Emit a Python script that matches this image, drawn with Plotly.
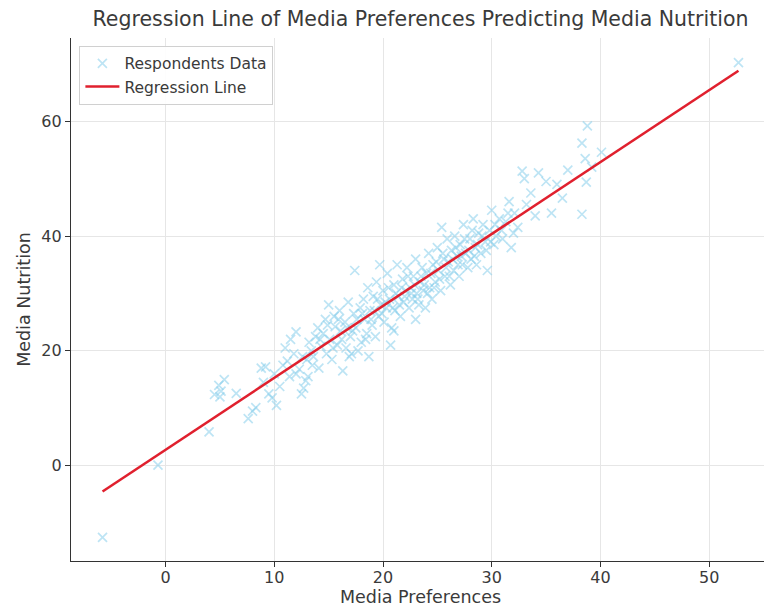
import plotly.graph_objects as go

# ---- Data ----
media_preferences = [
    -5.8, -0.7, 4.0, 4.5, 4.9, 5.1, 5.4, 5.0, 6.5, 7.6, 8.0, 8.3, 8.8, 9.2, 9.0, 9.5, 9.8, 10.2, 10.5, 10.8,
    11.0, 11.2, 11.5, 11.8, 12.0, 12.3, 12.5, 12.7, 12.9, 13.0, 13.2, 13.4, 13.6, 13.8, 14.0, 14.1, 14.3, 14.5, 14.7, 14.8,
    15.0, 15.1, 15.3, 15.5, 15.6, 15.8, 16.0, 16.1, 16.3, 16.5, 16.6, 16.8, 17.0, 17.1, 17.3, 17.4, 17.5, 17.7, 17.9, 18.0,
    18.2, 18.3, 18.5, 18.6, 18.8, 19.0, 19.1, 19.3, 19.4, 19.6, 19.8, 20.0, 20.1, 20.3, 20.4, 20.6, 20.8, 21.0, 21.1, 21.3,
    21.4, 21.6, 21.8, 21.9, 22.1, 22.2, 22.4, 22.5, 22.7, 22.8, 23.0, 23.1, 23.3, 23.4, 23.6, 23.7, 23.9, 24.0, 24.2, 24.3,
    24.5, 24.6, 24.8, 25.0, 25.1, 25.3, 25.4, 25.6, 25.7, 25.9, 26.0, 26.2, 26.3, 26.5, 26.6, 26.8, 27.0, 27.1, 27.3, 27.4,
    27.6, 27.8, 28.0, 28.1, 28.3, 28.5, 28.6, 28.8, 29.0, 29.2, 29.4, 29.6, 29.8, 30.0, 30.2, 30.4, 30.7, 31.0, 31.3, 31.6,
    31.8, 32.1, 32.4, 32.8, 33.0, 33.2, 33.6, 34.0, 34.3, 35.0, 35.5, 36.0, 36.5, 37.0, 38.3, 38.3, 38.7, 38.6, 38.8, 39.2,
    40.1, 52.7,
    12.0, 13.1, 14.2, 14.9, 15.4, 15.9, 16.2, 16.7, 17.2, 17.6, 18.1, 18.4, 18.9, 19.2, 19.5, 19.9, 20.2, 20.5, 20.9, 21.2,
    21.5, 21.7, 22.0, 22.3, 22.6, 22.9, 23.2, 23.5, 23.8, 24.1, 24.4, 24.7, 24.9, 25.2, 25.5, 25.8, 26.1, 26.4, 26.7, 26.9,
    27.2, 27.5, 27.9, 28.2, 28.4, 28.7, 29.1, 29.5, 29.9, 30.3, 30.9, 31.5, 32.0, 10.0, 11.4, 12.6, 13.5, 19.7, 20.7, 23.0,
    18.7, 16.9, 21.0,
]
media_nutrition = [
    -12.5, 0.1, 5.9, 12.4, 14.0, 13.0, 15.0, 12.0, 12.6, 8.2, 9.5, 10.1, 17.0, 17.2, 14.5, 12.5, 11.8, 10.5, 13.8, 17.5,
    20.5, 18.2, 22.0, 19.5, 23.3, 16.8, 12.5, 13.5, 14.8, 18.5, 21.5, 20.0, 19.0, 22.5, 24.0, 17.0, 20.8, 23.0, 25.5, 19.5,
    28.0, 22.0, 18.5, 26.0, 24.2, 21.0, 27.0, 23.5, 16.5, 25.0, 20.5, 28.5, 22.5, 19.5, 26.5, 34.0, 24.0, 20.0, 27.5, 21.5,
    29.0, 25.5, 23.0, 31.0, 27.0, 24.5, 29.5, 22.5, 32.0, 26.0, 28.0, 30.5, 25.0, 27.5, 33.5, 29.0, 24.0, 31.5, 27.0, 35.0,
    29.5, 26.0, 32.5, 28.5, 30.5, 34.5, 27.5, 31.0, 29.0, 33.0, 36.0, 30.0, 28.0, 32.0, 34.5, 30.5, 27.5, 33.5, 37.0, 31.0,
    29.0, 35.0, 32.0, 38.0, 34.0, 30.5, 41.5, 36.0, 33.0, 39.5, 35.5, 31.5, 37.5, 34.0, 40.0, 36.5, 33.0, 38.5, 35.0, 42.0,
    37.0, 34.5, 39.5, 36.0, 43.0, 38.0, 35.0, 40.5, 37.0, 42.0, 39.0, 34.0, 41.0, 44.5, 38.5, 40.0, 43.0, 39.5, 42.5, 46.0,
    38.0, 44.0, 41.5, 51.3, 50.0, 45.5, 47.5, 43.5, 51.0, 49.5, 44.0, 49.0, 46.6, 51.5, 43.8, 56.2, 49.4, 53.5, 59.2, 52.0,
    54.6, 70.2,
    16.0, 15.5, 22.0, 24.5, 20.5, 25.5, 22.0, 24.0, 23.5, 25.5, 26.5, 22.0, 25.5, 27.0, 29.0, 26.5, 28.5, 31.0, 27.5, 30.0,
    28.0, 31.0, 29.5, 33.0, 30.0, 31.5, 29.0, 33.0, 31.5, 30.0, 33.5, 31.0, 35.5, 32.5, 37.0, 34.5, 33.0, 36.0, 38.0, 35.0,
    36.5, 39.5, 37.5, 41.0, 36.5, 38.5, 40.0, 37.5, 39.0, 42.0, 41.0, 44.0, 40.5, 16.0, 15.5, 19.0, 17.5, 35.0, 21.0, 25.5,
    19.0, 19.0, 23.5,
]

# Regression line end points
regression_x = [-5.8, 52.7]
regression_y = [-4.5, 68.8]

title_text = "Regression Line of Media Preferences Predicting Media Nutrition"
x_label = "Media Preferences"
y_label = "Media Nutrition"
x_ticks = [0, 10, 20, 30, 40, 50]
y_ticks = [0, 20, 40, 60]

font_family = "DejaVu Sans, Verdana, sans-serif"
text_color = "#3a3a3a"

fig = go.Figure()
fig.add_trace(go.Scatter(
    x=media_preferences, y=media_nutrition, mode="markers",
    name="Respondents Data",
    marker=dict(symbol="x-thin", size=9, color="rgba(135,206,235,0.55)",
                line=dict(width=1.7, color="rgba(135,206,235,0.55)")),
))
fig.add_trace(go.Scatter(
    x=regression_x, y=regression_y, mode="lines",
    name="Regression Line",
    line=dict(color="#e0202e", width=2.6),
))

axis_common = dict(
    showline=True, linecolor="#333333", linewidth=1.3, mirror=False,
    showgrid=True, gridcolor="#e6e6e6", gridwidth=1,
    zeroline=False, ticks="outside", ticklen=5, tickwidth=1.2, tickcolor="#333333",
    tickfont=dict(size=16, color=text_color, family=font_family),
    automargin=False,
)

# page body has an 8px default margin, so the figure is sized to fit inside the window
fig.update_layout(
    width=764, height=599,
    margin=dict(l=63, r=2, t=30, b=46),
    paper_bgcolor="white", plot_bgcolor="white",
    font=dict(family=font_family, color=text_color),
    title=dict(text=title_text, x=0.5, xref="paper", xanchor="center",
               y=1, yref="container", yanchor="top", pad=dict(t=4),
               font=dict(size=20.5, color=text_color, family=font_family)),
    xaxis=dict(range=[-8.7, 55.6], tickvals=x_ticks, ticklabelstandoff=-3,
               title=dict(text=x_label, font=dict(size=17.5, color=text_color), standoff=4),
               **axis_common),
    yaxis=dict(range=[-16.6, 74.5], tickvals=y_ticks,
               title=dict(text=y_label, font=dict(size=17.5, color=text_color), standoff=6),
               **axis_common),
    legend=dict(x=0.012, y=0.985, xanchor="left", yanchor="top",
                bgcolor="rgba(255,255,255,0.9)", bordercolor="#d0d0d0", borderwidth=1,
                font=dict(size=15.5, color=text_color, family=font_family),
                itemwidth=34, tracegroupgap=0),
    showlegend=True,
)

fig.write_html("out.html")
